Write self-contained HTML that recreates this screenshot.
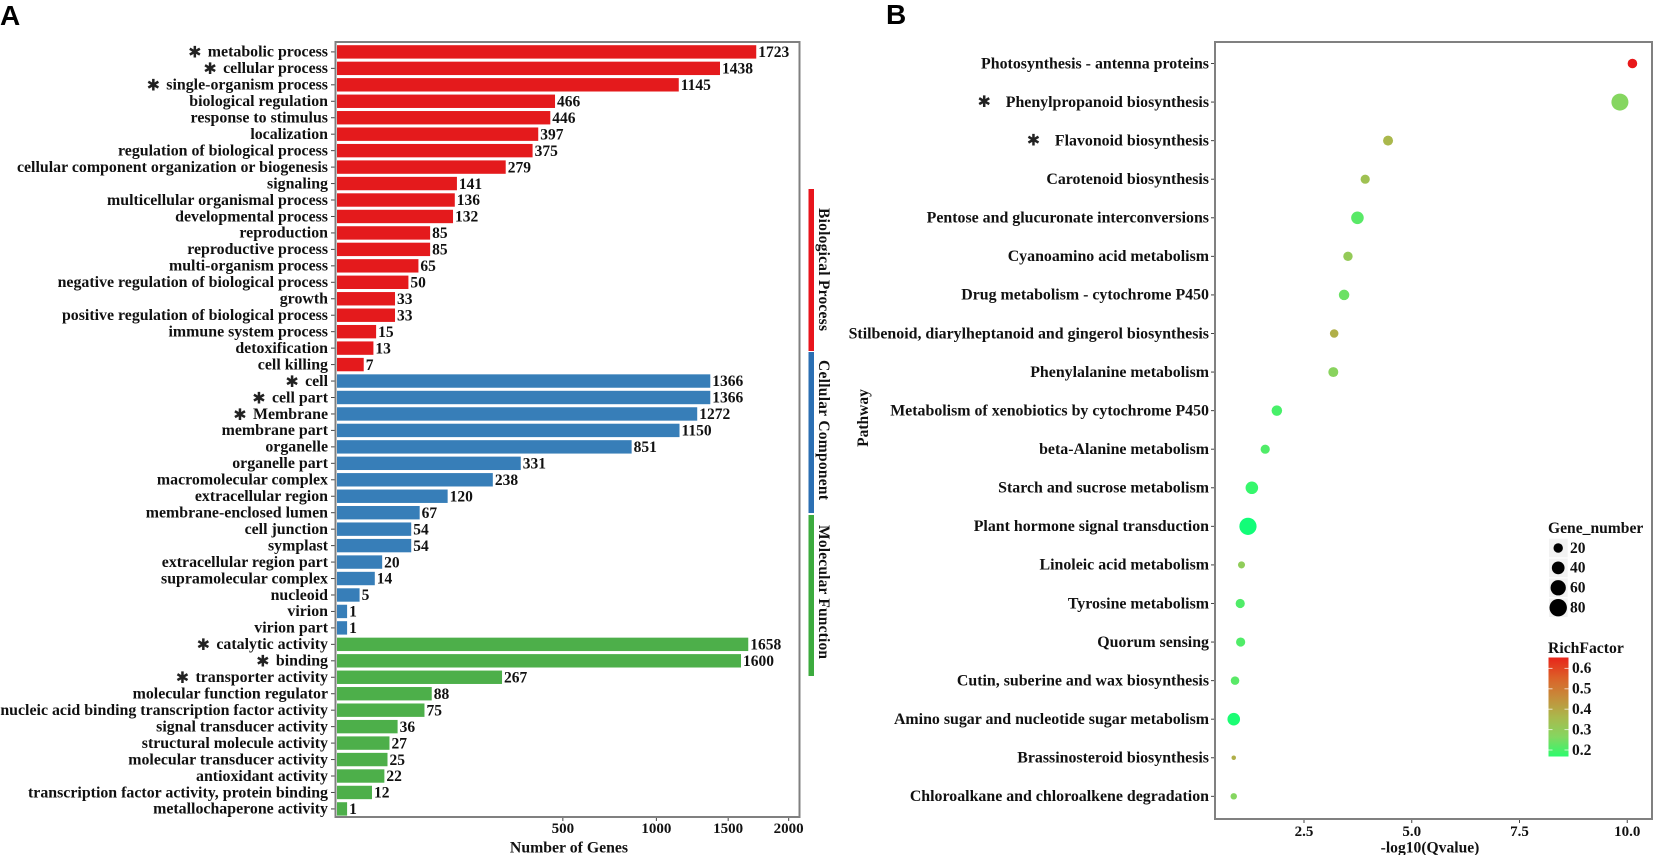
<!DOCTYPE html>
<html lang="en">
<head>
<meta charset="utf-8">
<title>GO enrichment and KEGG pathway charts</title>
<style>
html,body{margin:0;padding:0;background:#fff;width:1654px;height:855px;overflow:hidden}
svg{display:block;filter:blur(0.35px)}
text{font-family:"Liberation Serif",serif;font-weight:700;fill:#111}
.panel-letter{font-family:"Liberation Sans",sans-serif;font-size:28px;fill:#000}
.star{font-family:"DejaVu Sans",sans-serif;font-weight:400;font-size:16px;fill:#222}
</style>
</head>
<body>
<svg id="chart" xmlns="http://www.w3.org/2000/svg" width="1654" height="855" viewBox="0 0 1654 855">
  <defs>
    <linearGradient id="rich-gradient" x1="0" y1="1" x2="0" y2="0">
      <stop offset="0" stop-color="#2dfb6d"/>
      <stop offset="0.2" stop-color="#85d660"/>
      <stop offset="0.4" stop-color="#aab84c"/>
      <stop offset="0.6" stop-color="#c68c3a"/>
      <stop offset="0.8" stop-color="#dc6028"/>
      <stop offset="1" stop-color="#e8241a"/>
    </linearGradient>
  </defs>
  <rect x="0" y="0" width="1654" height="855" fill="#fff"/>
  <text class="panel-letter" x="0" y="25">A</text>
  <text class="panel-letter" x="886" y="24">B</text>
  <g id="panel-a"></g>
  <g id="panel-b"></g>
  <rect x="335.5" y="42" width="464" height="775" fill="none" stroke="#808080" stroke-width="2"/>
  <rect x="1215" y="42" width="437" height="777" fill="none" stroke="#808080" stroke-width="2"/>
  <text x="569" y="852.5" text-anchor="middle" font-size="15.8">Number of Genes</text>
  <text x="1430" y="852.5" text-anchor="middle" font-size="15.6">-log10(Qvalue)</text>
  <text transform="translate(868,418) rotate(-90)" text-anchor="middle" font-size="15.5">Pathway</text>
  <rect x="808.5" y="189" width="5.5" height="162" fill="#e8141c"/>
  <rect x="808.5" y="352" width="5.5" height="161" fill="#2b6fb3"/>
  <rect x="808.5" y="515" width="5.5" height="161" fill="#3cab3e"/>
  <text transform="translate(819,269.5) rotate(90)" text-anchor="middle" font-size="15.5" textLength="123" lengthAdjust="spacing">Biological Process</text>
  <text transform="translate(819,430) rotate(90)" text-anchor="middle" font-size="15.5" textLength="140" lengthAdjust="spacing">Cellular Component</text>
  <text transform="translate(819,592) rotate(90)" text-anchor="middle" font-size="15.5" textLength="134" lengthAdjust="spacing">Molecular Function</text>
  <g id="legends">
    <text x="1548" y="533" font-size="15.6">Gene_number</text>
    <text x="1548" y="653" font-size="15.7">RichFactor</text>
    <rect x="1548.5" y="657.5" width="20" height="99" fill="url(#rich-gradient)"/>
  </g>
</svg>
<script>
// ---------- Panel A data ----------
const goTerms = ["metabolic process","cellular process","single-organism process","biological regulation","response to stimulus","localization","regulation of biological process","cellular component organization or biogenesis","signaling","multicellular organismal process","developmental process","reproduction","reproductive process","multi-organism process","negative regulation of biological process","growth","positive regulation of biological process","immune system process","detoxification","cell killing","cell","cell part","Membrane","membrane part","organelle","organelle part","macromolecular complex","extracellular region","membrane-enclosed lumen","cell junction","symplast","extracellular region part","supramolecular complex","nucleoid","virion","virion part","catalytic activity","binding","transporter activity","molecular function regulator","nucleic acid binding transcription factor activity","signal transducer activity","structural molecule activity","molecular transducer activity","antioxidant activity","transcription factor activity, protein binding","metallochaperone activity"];
const goCounts = [1723,1438,1145,466,446,397,375,279,141,136,132,85,85,65,50,33,33,15,13,7,1366,1366,1272,1150,851,331,238,120,67,54,54,20,14,5,1,1,1658,1600,267,88,75,36,27,25,22,12,1];
const goGroups = ["BP","BP","BP","BP","BP","BP","BP","BP","BP","BP","BP","BP","BP","BP","BP","BP","BP","BP","BP","BP","CC","CC","CC","CC","CC","CC","CC","CC","CC","CC","CC","CC","CC","CC","CC","CC","MF","MF","MF","MF","MF","MF","MF","MF","MF","MF","MF"];
const goStarred = ["metabolic process","cellular process","single-organism process","cell","cell part","Membrane","catalytic activity","binding","transporter activity"];
const goTicks = [500,1000,1500,2000];

// ---------- Panel B data ----------
const pathways = ["Photosynthesis - antenna proteins","Phenylpropanoid biosynthesis","Flavonoid biosynthesis","Carotenoid biosynthesis","Pentose and glucuronate interconversions","Cyanoamino acid metabolism","Drug metabolism - cytochrome P450","Stilbenoid, diarylheptanoid and gingerol biosynthesis","Phenylalanine metabolism","Metabolism of xenobiotics by cytochrome P450","beta-Alanine metabolism","Starch and sucrose metabolism","Plant hormone signal transduction","Linoleic acid metabolism","Tyrosine metabolism","Quorum sensing","Cutin, suberine and wax biosynthesis","Amino sugar and nucleotide sugar metabolism","Brassinosteroid biosynthesis","Chloroalkane and chloroalkene degradation"];
const qValues = [10.12,9.83,4.45,3.92,3.74,3.52,3.43,3.2,3.18,1.87,1.6,1.29,1.2,1.05,1.02,1.03,0.9,0.87,0.87,0.87];
const geneNumbers = [21,76,23,19,39,20,26,16,23,26,19,39,78,10,19,19,16,39,3,8];
const richFactors = [0.65,0.3,0.4,0.37,0.25,0.34,0.27,0.42,0.31,0.23,0.24,0.21,0.17,0.33,0.24,0.24,0.25,0.18,0.42,0.3];
const pathwayStarred = ["Phenylpropanoid biosynthesis","Flavonoid biosynthesis"];
const qTicks = [2.5,5,7.5,10];
const geneLegendValues = [20,40,60,80];
const richLegendValues = [0.6,0.5,0.4,0.3,0.2];

// ---------- Scales ----------
const groupColor = {BP:"#e41a1c",CC:"#377eb8",MF:"#4daf4a"};
const xA = v => 337 + 10.1 * Math.sqrt(v);
const yA = i => 51.9 + 16.457 * i;
const xB = v => 1304 + (v - 2.5) * 43.1;
const yB = i => 63.5 + 38.57 * i;
const rB = g => 0.7 + 0.895 * Math.sqrt(g);
const yRich = v => 750 - (v - 0.2) * 204;
const yGene = i => 548 + 19.9 * i;
const colorStops = [[0.15,[0,255,127]],[0.2,[45,251,109]],[0.3,[133,214,96]],[0.4,[170,184,76]],[0.5,[198,140,58]],[0.6,[220,96,40]],[0.65,[232,24,26]]];
function richColor(v){
  for(let i=1;i<colorStops.length;i++){
    if(v<=colorStops[i][0]){
      const a=colorStops[i-1],b=colorStops[i],t=Math.max(0,(v-a[0])/(b[0]-a[0]));
      return "rgb("+a[1].map((c,k)=>Math.round(c+(b[1][k]-c)*t)).join(",")+")";
    }
  }
  return "rgb(232,24,26)";
}

const NS = "http://www.w3.org/2000/svg";
function mk(parent, tag, attrs, content){
  const node = document.createElementNS(NS, tag);
  for(const k in attrs) node.setAttribute(k, attrs[k]);
  if(content !== undefined) node.textContent = content;
  parent.appendChild(node);
  return node;
}

// ---------- Panel A ----------
const panelA = document.getElementById("panel-a");
goTerms.forEach((term, i) => {
  const y = yA(i), v = goCounts[i];
  const bar = mk(panelA, "rect", {x:xA(0), y:y-6.7, width:xA(v)-xA(0), height:13.4, fill:groupColor[goGroups[i]]});
  
  
  const value = mk(panelA, "text", {x:xA(v)+2, y:y+5.2, "font-size":15.5}, String(v));
  
  
  const tick = mk(panelA, "line", {x1:331, x2:335, y1:y, y2:y, stroke:"#444", "stroke-width":1});
  
  
  const label = mk(panelA, "text", {x:328, y:y+4.8, "text-anchor":"end", "font-size":15.9}, term);
  
  
  if(goStarred.includes(term)){
    const w = label.getComputedTextLength();
    const star = mk(panelA, "text", {class:"star", x:328-w-13, y:y+5.8, "text-anchor":"middle"}, "\u2731");
    
    
  }
});
goTicks.forEach(t => {
  const tick = mk(panelA, "line", {x1:xA(t), x2:xA(t), y1:817, y2:821, stroke:"#444", "stroke-width":1});
  
  
  const label = mk(panelA, "text", {x:xA(t), y:833, "text-anchor":"middle", "font-size":15}, String(t));
  
  
});

// ---------- Panel B ----------
const panelB = document.getElementById("panel-b");
pathways.forEach((name, i) => {
  const y = yB(i);
  const tick = mk(panelB, "line", {x1:1211, x2:1215, y1:y, y2:y, stroke:"#444", "stroke-width":1});
  
  
  const label = mk(panelB, "text", {x:1209, y:y+4.8, "text-anchor":"end", "font-size":15.9}, name);
  
  
  if(pathwayStarred.includes(name)){
    const w = label.getComputedTextLength();
    const star = mk(panelB, "text", {class:"star", x:1209-w-21.5, y:y+5, "text-anchor":"middle"}, "\u2731");
    
    
  }
  const dot = mk(panelB, "circle", {cx:xB(qValues[i]), cy:y, r:rB(geneNumbers[i]), fill:richColor(richFactors[i])});
  
  
});
qTicks.forEach(t => {
  const tick = mk(panelB, "line", {x1:xB(t), x2:xB(t), y1:819, y2:823, stroke:"#444", "stroke-width":1});
  
  
  const label = mk(panelB, "text", {x:xB(t), y:836, "text-anchor":"middle", "font-size":15}, t.toFixed(1));
  
  
});

// ---------- Legends ----------
const legends = document.getElementById("legends");
geneLegendValues.forEach((g, i) => {
  const y = yGene(i);
  const key = mk(legends, "rect", {x:1549, y:y-9.3, width:18.7, height:18.6, fill:"#f2f2f2"});
  
  
  const dot = mk(legends, "circle", {cx:1558.2, cy:y, r:rB(g), fill:"#000"});
  
  
  const label = mk(legends, "text", {x:1570, y:y+4.8, "font-size":15.5}, String(g));
  
  
});
richLegendValues.forEach(v => {
  const y = yRich(v);
  const left = mk(legends, "line", {x1:1548.5, x2:1552.5, y1:y, y2:y, stroke:"#fff", "stroke-opacity":0.7, "stroke-width":1});
  
  
  const right = mk(legends, "line", {x1:1564.5, x2:1568.5, y1:y, y2:y, stroke:"#fff", "stroke-opacity":0.7, "stroke-width":1});
  
  
  const label = mk(legends, "text", {x:1572, y:y+4.8, "font-size":15.5}, v.toFixed(1));
  
  
});
</script>
</body>
</html>
